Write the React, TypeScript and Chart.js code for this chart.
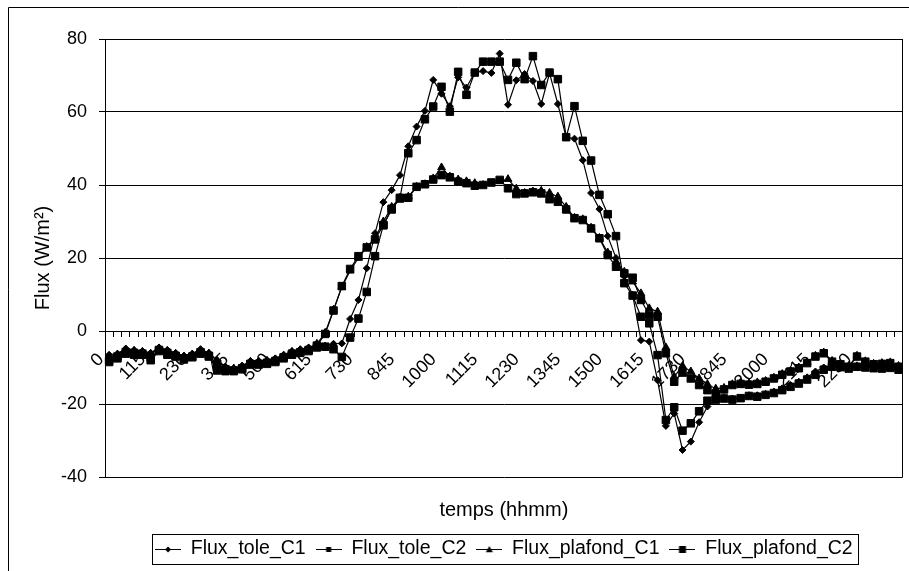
import React, { useEffect, useRef } from 'react';
import { Chart, registerables } from 'chart.js';

Chart.register(...registerables);

const categories = ['0','15','30','45','100','115','130','145','200','215','230','245','300','315','330','345','400','415','430','445','500','515','530','545','600','615','630','645','700','715','730','745','800','815','830','845','900','915','930','945','1000','1015','1030','1045','1100','1115','1130','1145','1200','1215','1230','1245','1300','1315','1330','1345','1400','1415','1430','1445','1500','1515','1530','1545','1600','1615','1630','1645','1700','1715','1730','1745','1800','1815','1830','1845','1900','1915','1930','1945','2000','2015','2030','2045','2100','2115','2130','2145','2200','2215','2230','2245','2300','2315','2330','2345'];

const fluxToleC1 = [
  -6.5, -6.2, -4.8, -5.2, -5.5, -6.0, -4.5, -5.2, -6.0, -6.8,
  -6.2, -5.0, -6.0, -8.0, -9.8, -10.2, -9.5, -8.2, -8.2, -8.0,
  -7.5, -6.5, -5.5, -5.0, -4.5, -4.0, -4.0, -3.5, -3.4, 3.3,
  8.5, 17.2, 26.8, 35.3, 38.6, 42.7, 50.6, 56.0, 60.3, 68.8,
  65.0, 61.6, 69.5, 66.7, 70.8, 71.2, 70.7, 76.0, 62.0, 68.7,
  70.4, 68.5, 62.2, 70.6, 62.2, 53.0, 52.7, 46.8, 37.8, 33.4,
  26.0, 20.0, 15.0, 9.9, -2.5, -2.9, -13.5, -26.0, -22.6, -32.6,
  -30.3, -25.0, -20.7, -18.5, -18.2, -18.5, -18.3, -17.6, -17.6, -17.2,
  -16.6, -15.7, -14.8, -13.9, -12.7, -11.1, -10.0, -9.3, -9.6, -10.0,
  -9.4, -9.6, -9.7, -9.9, -9.7, -10.0
];

const fluxToleC2 = [
  -8.5, -7.5, -6.2, -6.5, -6.5, -8.0, -5.5, -6.5, -7.0, -7.8,
  -7.2, -6.2, -7.0, -10.8, -11.0, -11.0, -10.5, -9.2, -9.2, -9.0,
  -8.5, -7.5, -6.5, -6.0, -5.5, -4.5, -4.3, -5.0, -7.1, -1.8,
  3.4, 10.7, 20.5, 29.0, 33.5, 36.5, 48.7, 52.3, 58.0, 61.5,
  66.9, 60.1, 71.0, 64.7, 70.8, 73.8, 73.8, 73.8, 68.8, 73.5,
  69.0, 75.3, 67.4, 70.8, 69.0, 53.1, 61.6, 52.1, 46.7, 37.3,
  32.0, 26.0, 13.1, 9.7, 3.9, 2.1, -6.6, -24.4, -20.9, -27.3,
  -25.3, -22.0, -19.1, -18.8, -18.5, -18.8, -18.4, -17.8, -18.0, -17.5,
  -17.0, -16.2, -15.3, -14.4, -13.3, -12.0, -10.6, -9.8, -9.9, -10.3,
  -9.8, -10.0, -10.2, -10.3, -10.1, -10.6
];

const fluxPlafondC1 = [
  -7.0, -6.5, -5.2, -5.5, -5.8, -6.3, -4.8, -5.5, -6.3, -7.0,
  -6.5, -5.3, -6.2, -8.2, -10.0, -10.3, -9.8, -8.5, -8.5, -8.2,
  -7.8, -6.8, -5.8, -5.3, -5.0, -3.5, -0.5, 5.8, 12.0, 16.5,
  20.0, 23.0, 25.5, 30.0, 34.0, 36.5, 36.8, 39.5, 40.2, 41.8,
  44.8, 42.3, 41.5, 41.0, 40.5, 40.0, 40.4, 41.0, 41.6, 39.0,
  37.8, 38.2, 38.4, 37.8, 36.8, 34.0, 31.0, 30.6, 28.3, 25.5,
  21.5, 19.0, 16.2, 13.5, 10.3, 6.2, 5.3, -4.5, -12.5, -9.6,
  -11.1, -13.0, -14.6, -15.8, -15.6, -14.6, -14.1, -14.3, -14.1, -13.7,
  -12.8, -11.8, -10.9, -10.0, -8.6, -6.8, -5.9, -8.2, -9.0, -9.6,
  -6.8, -8.3, -9.0, -8.8, -8.6, -9.6
];

const fluxPlafondC2 = [
  -8.0, -7.0, -5.8, -6.0, -6.2, -7.3, -5.2, -6.0, -6.8, -7.5,
  -7.0, -5.8, -6.8, -9.0, -10.5, -10.8, -10.2, -9.0, -9.0, -8.7,
  -8.2, -7.2, -6.2, -5.8, -5.2, -4.0, -0.8, 5.6, 12.3, 17.0,
  20.5, 22.9, 25.1, 29.0, 33.3, 36.3, 36.5, 39.5, 40.2, 41.5,
  42.7, 42.1, 40.9, 40.5, 39.8, 40.0, 40.7, 41.4, 39.1, 37.5,
  37.7, 38.0, 37.7, 36.1, 35.4, 33.3, 30.9, 30.4, 28.1, 25.4,
  20.8, 17.6, 15.8, 14.6, 8.5, 4.4, 3.9, -6.1, -13.9, -11.4,
  -13.0, -14.8, -16.2, -17.3, -16.0, -14.8, -14.5, -14.7, -14.5, -13.9,
  -13.0, -12.0, -11.1, -10.2, -8.8, -7.0, -6.1, -8.4, -9.1, -9.8,
  -7.0, -8.4, -9.1, -9.0, -8.8, -9.8
];

const seriesNames = ['Flux_tole_C1', 'Flux_tole_C2', 'Flux_plafond_C1', 'Flux_plafond_C2'];
const yTitle = 'Flux (W/m²)';
const xTitle = 'temps (hhmm)';

const FONT = "'Liberation Sans', Arial, sans-serif";

function legendImage(style: string, size: number): HTMLCanvasElement {
  const c = document.createElement('canvas');
  c.width = 26;
  c.height = 12;
  const ctx = c.getContext('2d') as CanvasRenderingContext2D;
  ctx.strokeStyle = '#000';
  ctx.fillStyle = '#000';
  ctx.lineWidth = 1;
  ctx.beginPath();
  ctx.moveTo(0, 6.5);
  ctx.lineTo(26, 6.5);
  ctx.stroke();
  const cx = 13, cy = 6.5;
  ctx.beginPath();
  if (style === 'diamond') {
    ctx.moveTo(cx - size, cy);
    ctx.lineTo(cx, cy - size);
    ctx.lineTo(cx + size, cy);
    ctx.lineTo(cx, cy + size);
    ctx.closePath();
  } else if (style === 'triangle') {
    ctx.moveTo(cx - size, cy + size * 0.8);
    ctx.lineTo(cx, cy - size);
    ctx.lineTo(cx + size, cy + size * 0.8);
    ctx.closePath();
  } else {
    ctx.rect(cx - size, cy - size, size * 2, size * 2);
  }
  ctx.fill();
  return c;
}

const framePlugin = {
  id: 'frames',
  beforeDraw(chart: any) {
    const ctx = chart.ctx;
    ctx.save();
    ctx.fillStyle = '#fff';
    ctx.fillRect(0, 0, chart.width, chart.height);
    ctx.strokeStyle = '#000';
    ctx.lineWidth = 1;
    ctx.beginPath();
    ctx.moveTo(8.5, chart.height);
    ctx.lineTo(8.5, 7.5);
    ctx.lineTo(chart.width, 7.5);
    ctx.stroke();
    ctx.restore();
  },
  afterDraw(chart: any) {
    const ctx = chart.ctx;
    const a = chart.chartArea;
    ctx.save();
    ctx.strokeStyle = '#000';
    ctx.lineWidth = 1;
    ctx.beginPath();
    ctx.moveTo(Math.round(a.right) - 0.5, a.top);
    ctx.lineTo(Math.round(a.right) - 0.5, a.bottom);
    ctx.stroke();
    const lg = chart.legend;
    if (lg && lg.legendHitBoxes && lg.legendHitBoxes.length) {
      const hb = lg.legendHitBoxes;
      const first = hb[0];
      const last = hb[hb.length - 1];
      const x1 = Math.round(first.left - 3) + 0.5;
      const x2 = Math.round(last.left + last.width + 5) + 0.5;
      const cy = first.top + first.height / 2;
      const y1 = Math.round(cy - 15) + 0.5;
      const y2 = Math.round(cy + 15) + 0.5;
      ctx.strokeRect(x1, y1, x2 - x1, y2 - y1);
    }
    ctx.restore();
  }
};

export default function App() {
  const ref = useRef<HTMLCanvasElement | null>(null);

  useEffect(() => {
    if (!ref.current) return;
    Chart.defaults.font.family = FONT;
    const images = [
      legendImage('diamond', 3),
      legendImage('square', 2.5),
      legendImage('triangle', 3.5),
      legendImage('square', 3.5)
    ];
    const common = {
      borderColor: '#000',
      borderWidth: 1.2,
      pointBackgroundColor: '#000',
      pointBorderColor: '#000',
      pointBorderWidth: 1,
      tension: 0,
      fill: false
    };
    const chart = new Chart(ref.current, {
      type: 'line',
      data: {
        labels: categories,
        datasets: [
          { ...common, label: seriesNames[0], data: fluxToleC1, pointStyle: 'rectRot', pointRadius: 3.5 },
          { ...common, label: seriesNames[1], data: fluxToleC2, pointStyle: 'rect', pointRadius: 5.3 },
          { ...common, label: seriesNames[2], data: fluxPlafondC1, pointStyle: 'triangle', pointRadius: 4.5 },
          { ...common, label: seriesNames[3], data: fluxPlafondC2, pointStyle: 'rect', pointRadius: 5.3 }
        ]
      },
      options: {
        animation: false,
        responsive: false,
        devicePixelRatio: 1,
        layout: { padding: { top: 39, left: 0, right: 1, bottom: 2.25 } },
        plugins: {
          tooltip: { enabled: false },
          title: {
            display: true,
            text: xTitle,
            position: 'bottom',
            fullSize: false,
            weight: 500,
            color: '#000',
            font: { size: 20, weight: 'normal', family: FONT },
            padding: { top: 21, bottom: 7.25 }
          },
          legend: {
            display: true,
            position: 'bottom',
            fullSize: false,
            labels: {
              usePointStyle: true,
              pointStyleWidth: 26,
              color: '#000',
              padding: 10,
              font: { size: 19.5, family: FONT },
              generateLabels: () =>
                seriesNames.map((name, i) => ({
                  text: name,
                  pointStyle: images[i],
                  fillStyle: '#000',
                  strokeStyle: '#000',
                  lineWidth: 0,
                  hidden: false,
                  datasetIndex: i,
                  fontColor: '#000'
                }))
            }
          }
        },
        scales: {
          x: {
            type: 'category',
            position: { y: 0 },
            offset: true,
            afterFit: (s: any) => {
              s.paddingLeft = 0;
              s.paddingRight = 0;
              s.paddingTop = 0;
              s.paddingBottom = 0;
            },
            grid: {
              display: true,
              drawOnChartArea: false,
              drawTicks: true,
              tickLength: 5,
              color: '#000',
              offset: true
            },
            border: { display: true, color: '#000', width: 1 },
            ticks: {
              autoSkip: false,
              minRotation: 45,
              maxRotation: 45,
              padding: 13,
              labelOffset: -8,
              color: '#000',
              font: { size: 18, family: FONT },
              callback: (_v: any, index: number) => (index % 5 === 0 && index <= 90 ? categories[index] : '')
            }
          },
          y: {
            type: 'linear',
            min: -40,
            max: 80,
            afterFit: (s: any) => {
              s.width = 105;
            },
            grid: { color: '#000', tickLength: 6, lineWidth: 1 },
            border: { display: true, color: '#000', width: 1 },
            ticks: {
              stepSize: 20,
              padding: 12,
              color: '#000',
              font: { size: 18, family: FONT }
            },
            title: {
              display: true,
              text: yTitle,
              color: '#000',
              font: { size: 20, family: FONT },
              padding: { top: 31.5, bottom: 0 }
            }
          }
        }
      },
      plugins: [framePlugin]
    } as any);
    return () => chart.destroy();
  }, []);

  return (
    <div style={{ position: 'fixed', left: 0, top: 0, width: 909, height: 571, background: '#fff' }}>
      <canvas ref={ref} width={909} height={571} style={{ display: 'block', width: 909, height: 571 }} />
    </div>
  );
}
